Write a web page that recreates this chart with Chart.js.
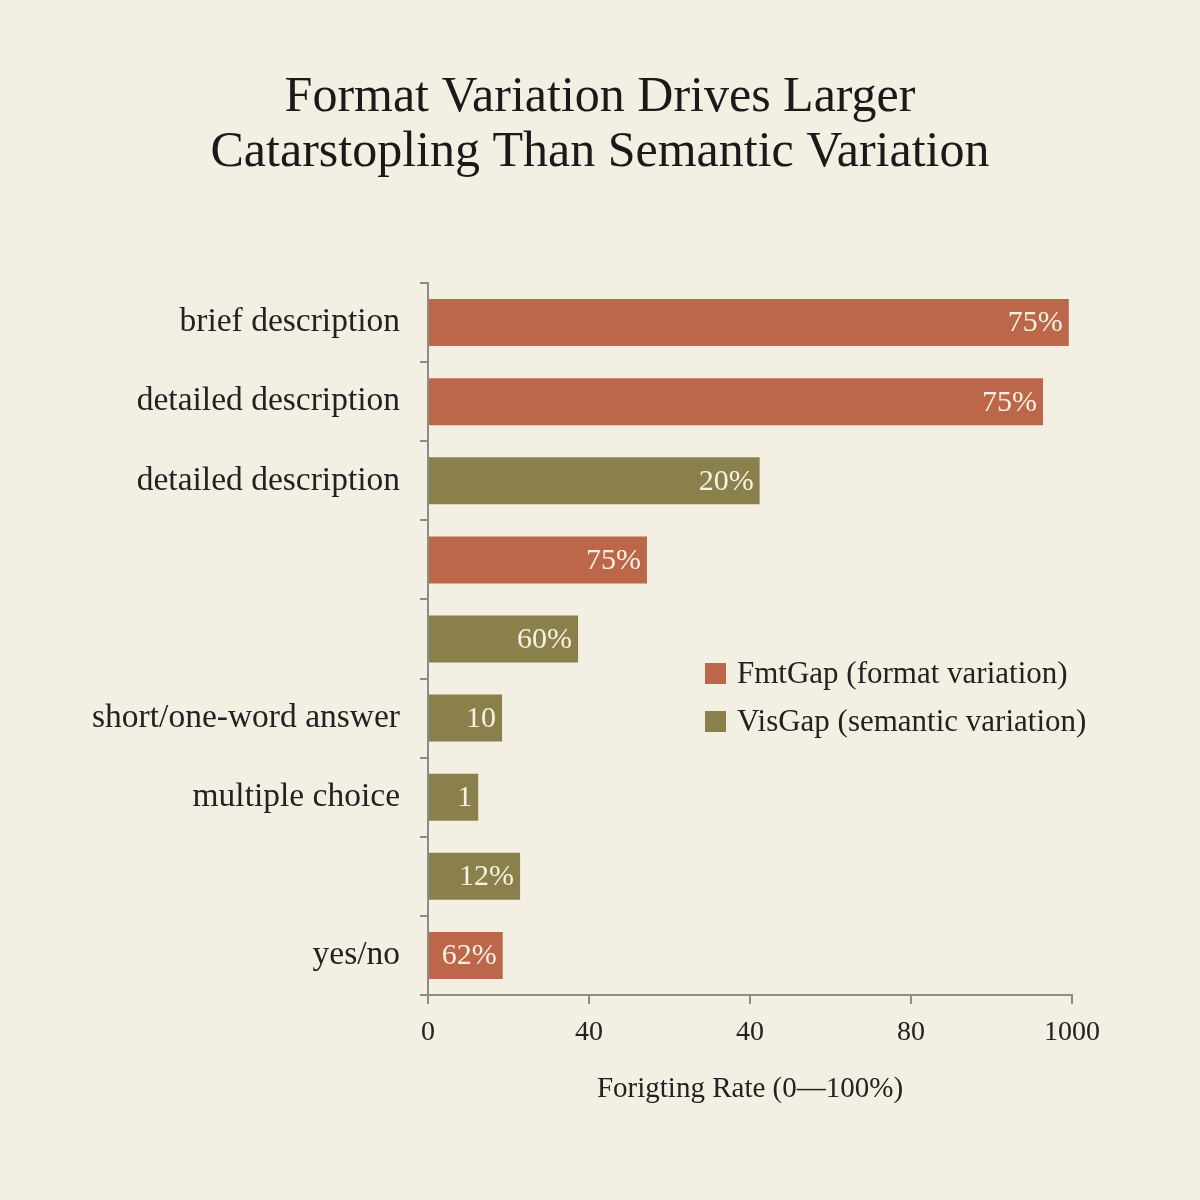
<!DOCTYPE html>
<html>
<head>
<meta charset="utf-8">
<script src="https://cdn.jsdelivr.net/npm/chart.js@4.4.1/dist/chart.umd.min.js"></script>
<style>
    html, body { margin: 0; padding: 0; background: #F3EFE3; }
    #wrap { position: relative; width: 1200px; height: 1200px; }
    #legend {
        position: absolute; left: 705px; top: 649px;
        font-family: 'Liberation Serif', 'DejaVu Serif', serif;
        font-size: 31px; color: #222;
    }
    .item { display: flex; align-items: center; height: 48px; }
    .box { width: 21px; height: 21px; margin-right: 11px; }
</style>
</head>
<body>
<div id="wrap">
    <canvas id="chart" width="1200" height="1200"></canvas>
    <div id="legend"></div>
</div>
<script>
// Data
const categories = ['brief description', 'detailed description', 'detailed description', '', '',
    'short/one-word answer', 'multiple choice', '', 'yes/no'];
const rates = [99.5, 95.5, 51.5, 34, 23.3, 11.5, 7.8, 14.3, 11.6];
const barLabels = ['75%', '75%', '20%', '75%', '60%', '10', '1', '12%', '62%'];
const groups = ['fmt', 'fmt', 'vis', 'fmt', 'vis', 'vis', 'vis', 'vis', 'fmt'];
const xTickLabels = ['0', '40', '40', '80', '1000'];

const colors = { fmt: '#BC664A', vis: '#8A804C' };
const legendItems = [
    { key: 'fmt', text: 'FmtGap (format variation)' },
    { key: 'vis', text: 'VisGap (semantic variation)' }
];

const serif = "'Liberation Serif', 'DejaVu Serif', serif";
const axisColor = '#8C8C8C';

// Label angka di ujung batang
const barLabelPlugin = {
    id: 'barLabels',
    afterDatasetsDraw(chart) {
        const ctx = chart.ctx;
        const meta = chart.getDatasetMeta(0);
        ctx.save();
        ctx.font = '30px ' + serif;
        ctx.fillStyle = '#F7F1E3';
        ctx.textAlign = 'right';
        ctx.textBaseline = 'middle';
        meta.data.forEach((bar, i) => {
            ctx.fillText(barLabels[i], bar.x - 6, bar.y + 1);
        });
        ctx.restore();
    }
};

function buildLegend() {
    const legend = document.getElementById('legend');
    legendItems.forEach(item => {
        const row = document.createElement('div');
        row.className = 'item';
        const box = document.createElement('span');
        box.className = 'box';
        box.style.background = colors[item.key];
        const label = document.createElement('span');
        label.textContent = item.text;
        row.appendChild(box);
        row.appendChild(label);
        legend.appendChild(row);
    });
}

function initializeChart() {
    new Chart(document.getElementById('chart'), {
        type: 'bar',
        data: {
            labels: categories,
            datasets: [{
                data: rates,
                backgroundColor: groups.map(g => colors[g]),
                borderWidth: 0,
                barPercentage: 0.66,
                categoryPercentage: 0.9
            }]
        },
        options: {
            indexAxis: 'y',
            responsive: false,
            animation: false,
            layout: { padding: { left: 0, right: 0, bottom: 93 } },
            plugins: {
                legend: { display: false },
                tooltip: { enabled: false },
                title: {
                    display: true,
                    text: ['Format Variation Drives Larger', 'Catarstopling Than Semantic Variation'],
                    color: '#1A1A1A',
                    font: { family: serif, size: 50, weight: 'normal', lineHeight: 1.1 },
                    padding: { top: 70, bottom: 103 }
                }
            },
            scales: {
                x: {
                    min: 0,
                    max: 100,
                    afterFit: scale => { scale.height = 112; },
                    ticks: {
                        stepSize: 25,
                        padding: 12,
                        color: '#222',
                        font: { family: serif, size: 28 },
                        callback: (value, index) => xTickLabels[index]
                    },
                    grid: { display: true, drawOnChartArea: false, tickLength: 9, color: axisColor, lineWidth: 2 },
                    border: { color: axisColor, width: 2 },
                    title: {
                        display: true,
                        text: 'Forigting Rate (0\u2014100%)',
                        color: '#222',
                        font: { family: serif, size: 29 },
                        padding: { top: 20, bottom: 0 }
                    }
                },
                y: {
                    afterFit: scale => { scale.width = 428; },
                    ticks: {
                        padding: 20,
                        color: '#222',
                        font: { family: serif, size: 33.5 }
                    },
                    grid: { display: true, drawOnChartArea: false, tickLength: 8, color: axisColor, lineWidth: 2 },
                    border: { color: axisColor, width: 2 }
                },
                // ruang kosong di kanan supaya judul tetap di tengah
                right: {
                    type: 'category',
                    position: 'right',
                    labels: categories,
                    afterFit: scale => { scale.width = 128; },
                    ticks: { display: false },
                    grid: { display: false },
                    border: { display: false }
                }
            }
        },
        plugins: [barLabelPlugin]
    });
}

window.addEventListener('load', () => {
    buildLegend();
    initializeChart();
});
</script>
</body>
</html>
